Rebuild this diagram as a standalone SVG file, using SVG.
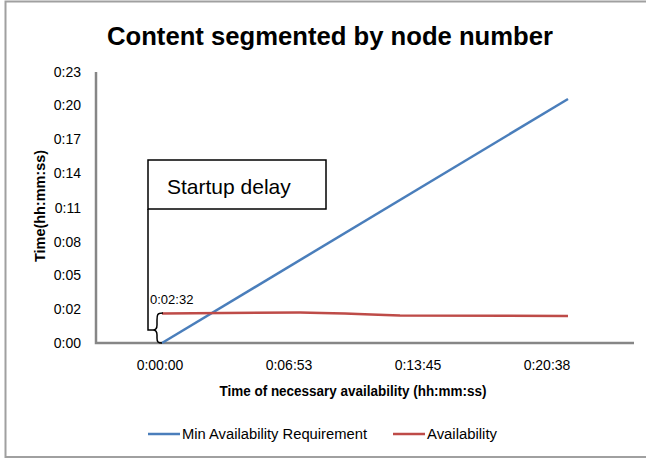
<svg xmlns="http://www.w3.org/2000/svg" width="646" height="458" viewBox="0 0 646 458">
<style>
text{font-family:"Liberation Sans",Arial,sans-serif;fill:#000}
.ytick{font-size:14px;text-anchor:end}
.xtick{font-size:14px;text-anchor:middle}
.bold{font-weight:bold}
.axis{stroke:#868686;stroke-width:2.5;fill:none}
.blue{stroke:#4a7ebb;stroke-width:2.5;fill:none}
.red{stroke:#be4b48;stroke-width:2.5;fill:none}
.ann{stroke:#000;stroke-width:1.5;fill:none}
</style>
<rect x="0" y="0" width="646" height="458" fill="#fff"/>
<g id="frame">
<path d="M5.5,458 V1.5 H646" stroke="#a0a0a0" stroke-width="2" fill="none"/>
<path d="M5.5,457 H646" stroke="#a0a0a0" stroke-width="2" fill="none"/>
</g>
<g id="title">
<text x="330" y="45" font-size="26" class="bold" text-anchor="middle" textLength="446" lengthAdjust="spacingAndGlyphs">Content segmented by node number</text>
</g>
<g id="axes">
<path class="axis" d="M96,72 V343 H634"/>
<g class="ytick">
<text x="81" y="77">0:23</text>
<text x="81" y="110">0:20</text>
<text x="81" y="144">0:17</text>
<text x="81" y="178">0:14</text>
<text x="81" y="213">0:11</text>
<text x="81" y="247">0:08</text>
<text x="81" y="280">0:05</text>
<text x="81" y="314">0:02</text>
<text x="81" y="348">0:00</text>
</g>
<g class="xtick">
<text x="160" y="370">0:00:00</text>
<text x="289" y="370">0:06:53</text>
<text x="418" y="370">0:13:45</text>
<text x="547" y="370">0:20:38</text>
</g>
<text x="353" y="396" font-size="14" class="bold" text-anchor="middle" textLength="267" lengthAdjust="spacingAndGlyphs">Time of necessary availability (hh:mm:ss)</text>
<text transform="translate(45,206) rotate(-90)" font-size="14" class="bold" text-anchor="middle" textLength="112" lengthAdjust="spacingAndGlyphs">Time(hh:mm:ss)</text>
</g>
<g id="series">
<path class="blue" d="M162,343 L568,99"/>
<path class="red" d="M162,313.5 L300,312.5 Q340,313 400,315.5 L568,316"/>
</g>
<g id="startup-delay">
<rect x="148" y="160" width="178" height="49" fill="#fff" stroke="#000" stroke-width="1.5"/>
<text x="167" y="194" font-size="21">Startup delay</text>
<path class="ann" d="M148,209 V330 H153"/>
<path class="ann" d="M163,313 C157,313 157,315 157,320 V325 C157,328 156,330 153,330 C156,330 157,332 157,335 V338 C157,342 158,343 162,343"/>
<text x="150" y="304" font-size="13">0:02:32</text>
</g>
<g id="legend">
<path class="blue" d="M148,434 H180"/>
<text x="182" y="439" font-size="14" textLength="185" lengthAdjust="spacingAndGlyphs">Min Availability Requirement</text>
<path class="red" d="M393,434 H425"/>
<text x="427" y="439" font-size="14" textLength="70" lengthAdjust="spacingAndGlyphs">Availability</text>
</g>
</svg>
